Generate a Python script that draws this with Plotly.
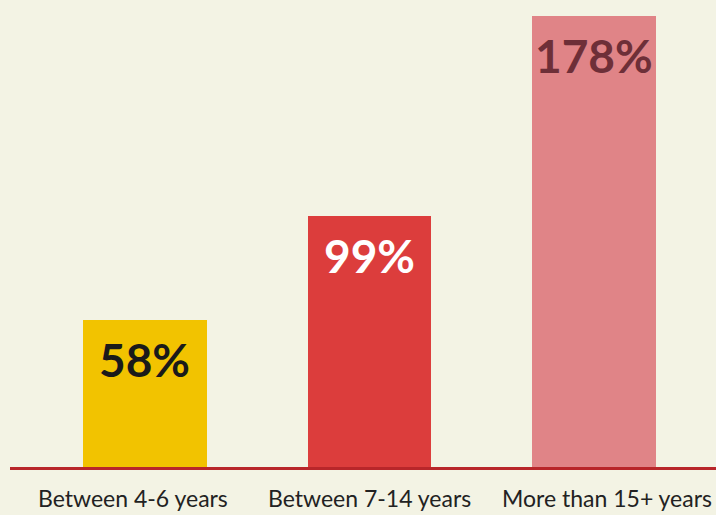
import plotly.graph_objects as go

categories = ["Between 4-6 years", "Between 7-14 years", "More than 15+ years"]
values = [58, 99, 178]
labels = ["58%", "99%", "178%"]
bar_colors = ["#f2c300", "#dc3d3c", "#e08487"]
label_colors = ["#1a1a1a", "#ffffff", "#6e2f38"]
category_xshift = [-12, 0, 13]

fig = go.Figure()
fig.add_trace(go.Bar(
    x=list(range(len(categories))),
    y=values,
    marker=dict(color=bar_colors, line=dict(width=0)),
    width=0.55,
    hoverinfo="skip",
))

for i, (v, t, c) in enumerate(zip(values, labels, label_colors)):
    fig.add_annotation(
        x=i, y=v, xref="x", yref="y",
        text=t, showarrow=False,
        yshift=-39,
        font=dict(family="Lato", size=46, color=c, weight="bold"),
    )

for i, (cat, dx) in enumerate(zip(categories, category_xshift)):
    fig.add_annotation(
        x=i, y=0, xref="x", yref="paper",
        text=cat, showarrow=False,
        yanchor="middle", yshift=-31, xshift=dx,
        font=dict(family="Lato", size=23, color="#222222"),
    )

fig.update_layout(
    width=716, height=515,
    margin=dict(l=10, r=0, t=0, b=48),
    paper_bgcolor="#f3f3e4",
    plot_bgcolor="#f3f3e4",
    showlegend=False,
    bargap=0,
)
fig.update_xaxes(
    range=[-0.601, 2.543],
    showticklabels=False, ticks="",
    showline=True, linecolor="#b8262a", linewidth=3,
    showgrid=False, zeroline=False,
)
fig.update_yaxes(
    range=[0, 184.5],
    visible=False, showgrid=False, zeroline=False,
)

fig.write_html(
    "out.html",
    config={"displayModeBar": False},
    post_script="document.body.style.margin='0px';document.body.style.overflow='hidden';",
)
